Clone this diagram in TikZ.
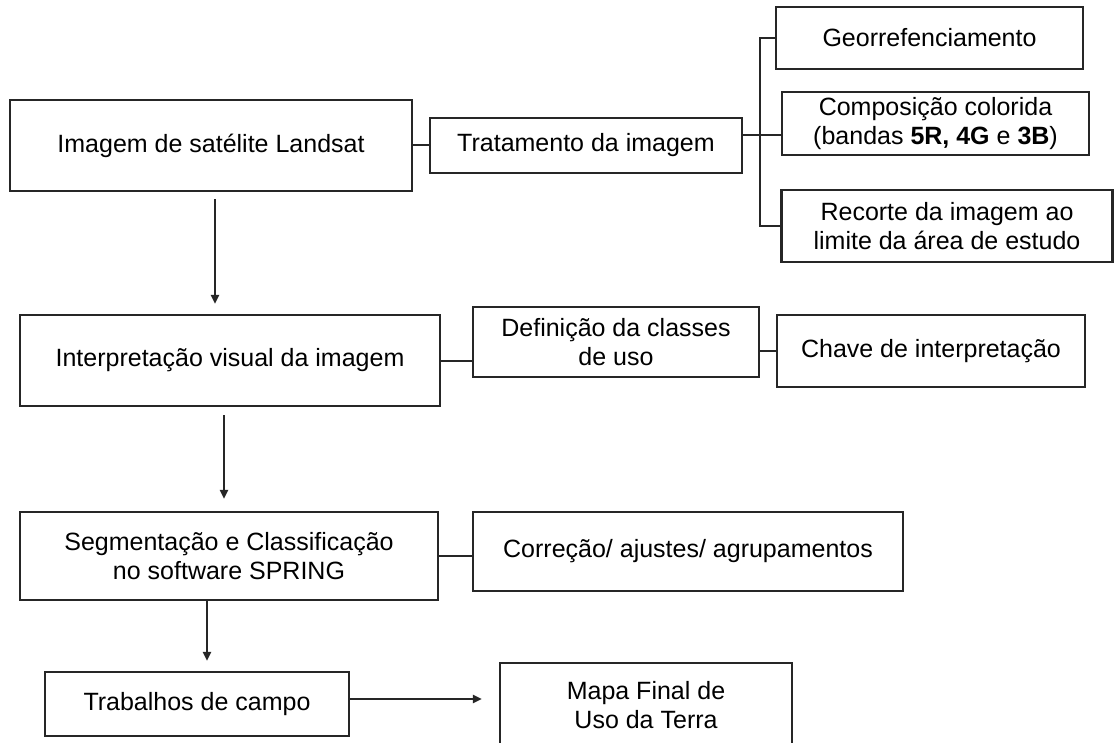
\documentclass[tikz,border=0pt]{standalone}
\usepackage{fontspec}
\setmainfont{Liberation Sans}
\usetikzlibrary{arrows.meta,calc}
\begin{document}
\begin{tikzpicture}[x=1pt,y=-1pt,
  box/.style={draw=black!85, line width=2.2pt, rectangle, inner sep=0pt, align=center,
    font=\fontsize{25}{29}\selectfont},
  link/.style={draw=black!85, line width=2pt},
  arr/.style={link, -{Triangle[length=9pt,width=8pt]}}]
\useasboundingbox (0,0) rectangle (1115,743);
\clip (0,0) rectangle (1115,743);
\fill[white] (0,0) rectangle (1115,743);
% nodes
\node[box, minimum width=402pt, minimum height=91pt] (img) at (211,145.5) {Imagem de satélite Landsat};
\node[box, minimum width=312pt, minimum height=55pt] (trat) at (586,145.5) {Tratamento da imagem};
\node[box, minimum width=307pt, minimum height=62pt] (geo) at (929.5,38) {Georrefenciamento};
\node[box, minimum width=307pt, minimum height=63pt] (comp) at (935.5,123.5) {Composição colorida\\(bandas \textbf{5R, 4G} e \textbf{3B})};
\node[box, minimum width=331pt, minimum height=72pt] (rec) at (947,226) {Recorte da imagem ao\\limite da área de estudo};
\node[box, minimum width=420pt, minimum height=91pt] (interp) at (230,360.5) {Interpretação visual da imagem};
\node[box, minimum width=286pt, minimum height=70pt] (defi) at (616,342) {Definição da classes\\de uso};
\node[box, minimum width=308pt, minimum height=72pt] (chave) at (931,351) {Chave de interpretação};
\node[box, minimum width=418pt, minimum height=88pt] (seg) at (229,556) {Segmentação e Classificação\\no software SPRING};
\node[box, minimum width=430pt, minimum height=79pt] (corr) at (688,551.5) {Correção/ ajustes/ agrupamentos};
\node[box, minimum width=304pt, minimum height=64pt] (trab) at (197,704) {Trabalhos de campo};
\node[box, minimum width=292pt, minimum height=84pt] (mapa) at (646,705) {Mapa Final de\\Uso da Terra};
% connectors
\draw[link] (img.east) -- (trat.west);
\coordinate (bt) at (760,38);
\coordinate (bb) at (760,226);
\draw[link] (geo.west) -- (bt) -- (bb) -- (rec.west);
\coordinate (tc) at (742,135);
\draw[link] (tc) -- (comp.west |- tc);
\draw[link] (interp.east) -- (interp.east -| defi.west);
\draw[link] (chave.west -| defi.east) -- (chave.west);
\draw[link] (seg.east) -- (seg.east -| corr.west);
% arrows
\draw[arr, shorten <=7pt, shorten >=10pt] ([xshift=4pt]img.south) -- ([xshift=4pt]img.south |- interp.north);
\draw[arr, shorten <=8pt, shorten >=12pt] ([xshift=-6pt]interp.south) -- ([xshift=-6pt]interp.south |- seg.north);
\draw[arr, shorten >=10pt] ([xshift=-22pt]seg.south) -- ([xshift=-22pt]seg.south |- trab.north);
\draw[arr, shorten >=17pt] ([yshift=5pt]trab.east) -- ([yshift=5pt]trab.east -| mapa.west);
\end{tikzpicture}
\end{document}
